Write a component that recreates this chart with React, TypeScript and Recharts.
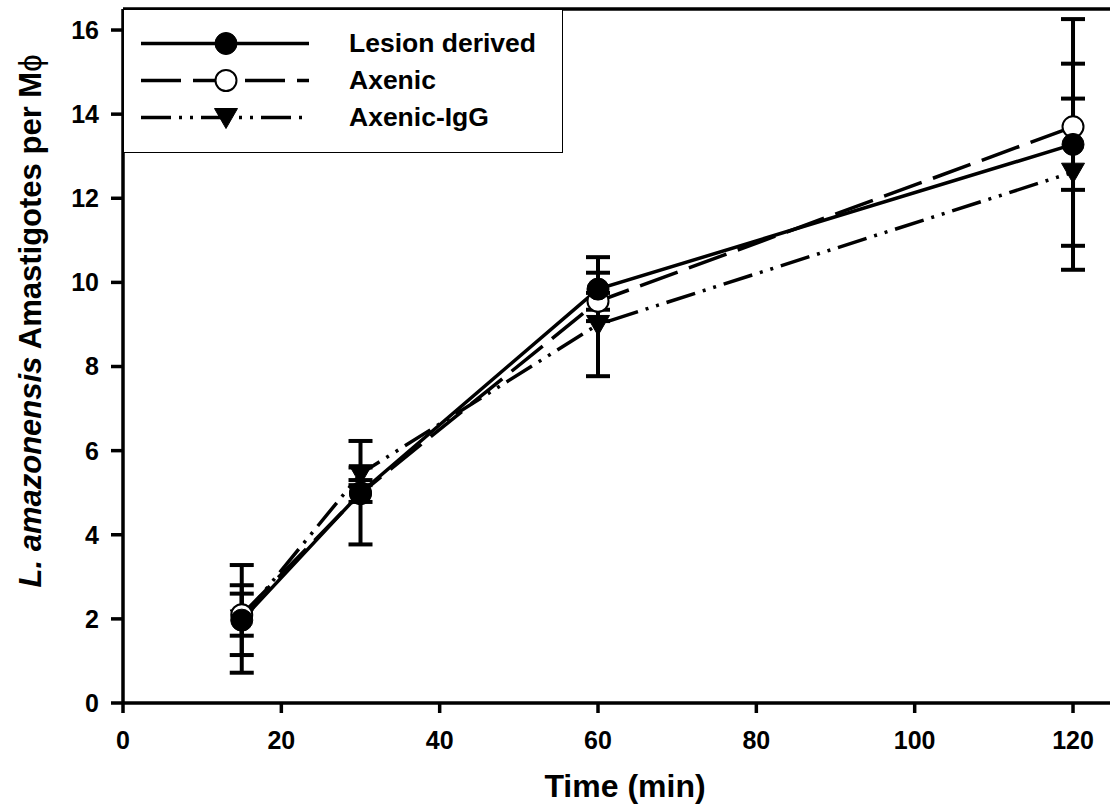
import {
  LineChart,
  Line,
  XAxis,
  YAxis,
  ErrorBar,
  Legend,
  ReferenceLine,
} from "recharts";

// Time points (min)
const TIMES = [15, 30, 60, 120];

// Amastigotes per macrophage
const LESION = [1.97, 5.0, 9.84, 13.28];
const LESION_ERR = [0.83, 1.23, 0.76, 2.98];

const AXENIC = [2.1, 4.98, 9.55, 13.7];
const AXENIC_ERR = [0.5, 0.2, 0.2, 1.5];

const AXENIC_IGG = [2.0, 5.45, 9.0, 12.62];
const AXENIC_IGG_ERR = [1.28, 0.15, 1.23, 1.75];

const X_TICKS = [0, 20, 40, 60, 80, 100, 120];
const Y_TICKS = [0, 2, 4, 6, 8, 10, 12, 14, 16];

const FONT = "'Liberation Sans', Arial, Helvetica, sans-serif";

const chartData = TIMES.map((t, i) => ({
  time: t,
  lesion: LESION[i],
  lesionErr: LESION_ERR[i],
  axenic: AXENIC[i],
  axenicErr: AXENIC_ERR[i],
  igg: AXENIC_IGG[i],
  iggErr: AXENIC_IGG_ERR[i],
}));

// marker shapes
function FilledCircle({ cx, cy }: { cx: number; cy: number }) {
  return <circle cx={cx} cy={cy} r={11} fill="#000" stroke="#000" strokeWidth={1} />;
}
function OpenCircle({ cx, cy }: { cx: number; cy: number }) {
  return <circle cx={cx} cy={cy} r={10.5} fill="#fff" stroke="#000" strokeWidth={2} />;
}
function DownTriangle({ cx, cy }: { cx: number; cy: number }) {
  return (
    <polygon
      points={`${cx - 11.5},${cy - 9} ${cx + 11.5},${cy - 9} ${cx},${cy + 11}`}
      fill="#000"
      stroke="#000"
      strokeWidth={1}
    />
  );
}

const SERIES: Record<string, { dash?: string; Marker: any }> = {
  lesion: { dash: undefined, Marker: FilledCircle },
  axenic: { dash: "40 12", Marker: OpenCircle },
  igg: { dash: "30 8 3 8 3 8", Marker: DownTriangle },
};

const LEGEND_ORDER = ["lesion", "axenic", "igg"];

function LegendBox({ payload }: any) {
  const items = LEGEND_ORDER.map((k) =>
    (payload || []).find((p: any) => p.dataKey === k)
  ).filter(Boolean);
  return (
    <div
      style={{
        width: 440,
        height: 144,
        boxSizing: "border-box",
        border: "1.5px solid #000",
        background: "#fff",
        paddingTop: 15,
      }}
    >
      {items.map((p: any) => {
        const s = SERIES[p.dataKey];
        const M = s.Marker;
        return (
          <div
            key={p.dataKey}
            style={{ display: "flex", alignItems: "center", height: 37 }}
          >
            <svg width={225} height={37} style={{ display: "block" }}>
              <line
                x1={17}
                x2={185}
                y1={18.5}
                y2={18.5}
                stroke="#000"
                strokeWidth={3.5}
                strokeDasharray={s.dash}
              />
              <M cx={102} cy={18.5} />
            </svg>
            <span
              style={{
                fontFamily: FONT,
                fontWeight: "bold",
                fontSize: 26.5,
                color: "#000",
              }}
            >
              {p.value}
            </span>
          </div>
        );
      })}
    </div>
  );
}

const tickStyle = {
  fill: "#000",
  fontSize: 25,
  fontWeight: "bold" as const,
  fontFamily: FONT,
};

export default function App() {
  const dot = (key: string) => (props: any) => {
    const M = SERIES[key].Marker;
    return <M key={`${key}-${props.index}`} cx={props.cx} cy={props.cy} />;
  };

  return (
    <div
      style={{
        position: "fixed",
        left: 0,
        top: 0,
        width: 1110,
        height: 805,
        overflow: "hidden",
        background: "#fff",
      }}
    >
      <LineChart
        width={1130}
        height={805}
        data={chartData}
        margin={{ top: 9, right: 17.4, left: 63, bottom: 42 }}
      >
        <XAxis
          dataKey="time"
          type="number"
          domain={[0, 125]}
          ticks={X_TICKS}
          height={60}
          axisLine={{ stroke: "#000", strokeWidth: 3.5 }}
          tickLine={{ stroke: "#000", strokeWidth: 3.5 }}
          tickSize={10}
          tickMargin={18}
          tick={tickStyle}
          label={{
            content: () => (
              <text
                x={625}
                y={797}
                textAnchor="middle"
                fontFamily={FONT}
                fontWeight="bold"
                fontSize={32}
                fill="#000"
              >
                Time (min)
              </text>
            ),
          }}
        />
        <YAxis
          type="number"
          domain={[0, 16.5]}
          ticks={Y_TICKS}
          width={60}
          axisLine={{ stroke: "#000", strokeWidth: 3.5 }}
          tickLine={{ stroke: "#000", strokeWidth: 3.5 }}
          tickSize={12}
          tickMargin={12}
          tick={tickStyle}
          label={{
            content: () => (
              <text
                x={41}
                y={321}
                transform="rotate(-90 41 321)"
                textAnchor="middle"
                fontFamily={FONT}
                fontWeight="bold"
                fontSize={31}
                fill="#000"
              >
                <tspan fontStyle="italic">L. amazonensis</tspan>
                <tspan> Amastigotes per M</tspan>
                <tspan fontWeight="normal">ϕ</tspan>
              </text>
            ),
          }}
        />
        <ReferenceLine
          y={16.5}
          stroke="#000"
          strokeWidth={3.5}
          ifOverflow="visible"
        />
        <Legend
          layout="vertical"
          align="center"
          verticalAlign="middle"
          wrapperStyle={{ left: 123, top: 9, width: 440, height: 144 }}
          content={<LegendBox />}
        />
        <Line
          dataKey="igg"
          name="Axenic-IgG"
          stroke="#000"
          strokeWidth={3.5}
          strokeDasharray={SERIES.igg.dash}
          dot={dot("igg")}
          activeDot={false}
          isAnimationActive={false}
        >
          <ErrorBar
            dataKey="iggErr"
            direction="y"
            width={12}
            stroke="#000"
            strokeWidth={4}
            isAnimationActive={false}
          />
        </Line>
        <Line
          dataKey="axenic"
          name="Axenic"
          stroke="#000"
          strokeWidth={3.5}
          strokeDasharray={SERIES.axenic.dash}
          dot={dot("axenic")}
          activeDot={false}
          isAnimationActive={false}
        >
          <ErrorBar
            dataKey="axenicErr"
            direction="y"
            width={12}
            stroke="#000"
            strokeWidth={4}
            isAnimationActive={false}
          />
        </Line>
        <Line
          dataKey="lesion"
          name="Lesion derived"
          stroke="#000"
          strokeWidth={3.5}
          dot={dot("lesion")}
          activeDot={false}
          isAnimationActive={false}
        >
          <ErrorBar
            dataKey="lesionErr"
            direction="y"
            width={12}
            stroke="#000"
            strokeWidth={4}
            isAnimationActive={false}
          />
        </Line>
      </LineChart>
    </div>
  );
}
